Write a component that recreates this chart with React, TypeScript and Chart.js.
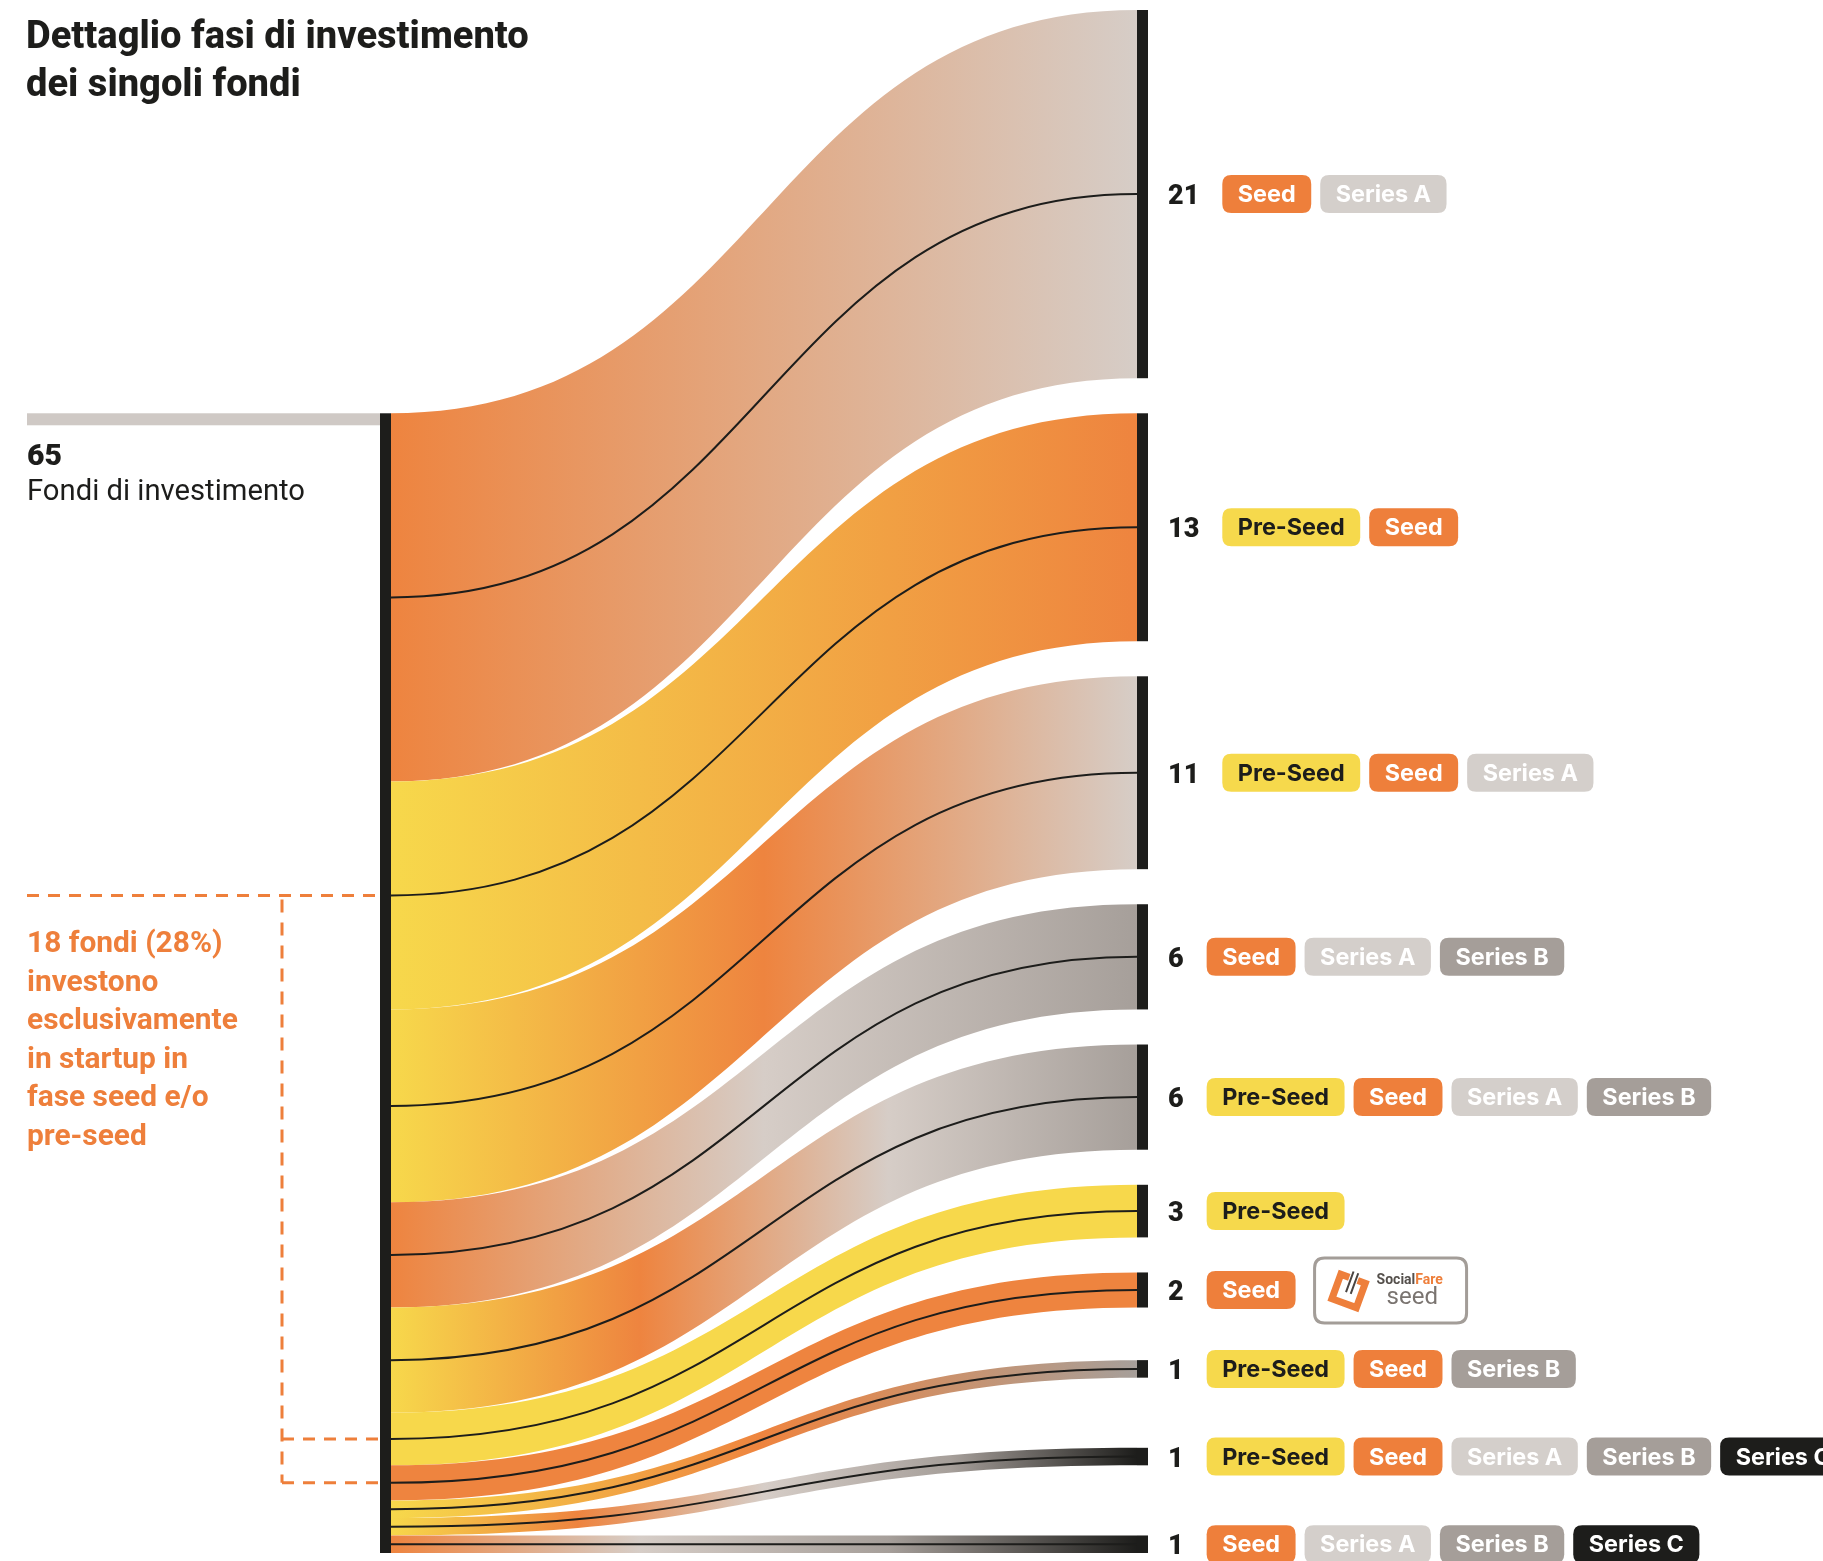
import React, { useEffect, useRef } from "react";
import { Chart, registerables } from "chart.js";

Chart.register(...registerables);

// ---------- DATA ----------
const titleLines = ["Dettaglio fasi di investimento", "dei singoli fondi"];
const totalFunds = 65;
const totalLabel = "Fondi di investimento";
const noteLines = [
  "18 fondi (28%)",
  "investono",
  "esclusivamente",
  "in startup in",
  "fase seed e/o",
  "pre-seed",
];
const groupCounts = [21, 13, 11, 6, 6, 3, 2, 1, 1, 1];
const groupStages: string[][] = [
  ["Seed", "Series A"],
  ["Pre-Seed", "Seed"],
  ["Pre-Seed", "Seed", "Series A"],
  ["Seed", "Series A", "Series B"],
  ["Pre-Seed", "Seed", "Series A", "Series B"],
  ["Pre-Seed"],
  ["Seed"],
  ["Pre-Seed", "Seed", "Series B"],
  ["Pre-Seed", "Seed", "Series A", "Series B", "Series C"],
  ["Seed", "Series A", "Series B", "Series C"],
];
// spacing (in fund units) before each group on the right side
const rightGaps = [0, 2, 2, 2, 2, 2, 2, 3, 4, 4];
const logoGroupIndex = 6;
const earlyStages = ["Pre-Seed", "Seed"];

// ---------- STYLE ----------
const stageStyle: Record<string, { band: string; pill: string; text: string }> = {
  "Pre-Seed": { band: "#f7d84b", pill: "#f6d94c", text: "#1d1d1b" },
  Seed: { band: "#ee843f", pill: "#ee7f3b", text: "#ffffff" },
  "Series A": { band: "#d6cdc7", pill: "#d4cfcb", text: "#ffffff" },
  "Series B": { band: "#a69f9a", pill: "#a59e99", text: "#ffffff" },
  "Series C": { band: "#1d1d1b", pill: "#1d1d1b", text: "#ffffff" },
};
const ORANGE = "#ee7f3b";
const DARK = "#1d1d1b";
const W = 1823;
const H = 1561;

function fitSize(ctx: CanvasRenderingContext2D, text: string, target: number, weight: string, family: string) {
  ctx.font = `${weight} 100px ${family}`;
  const w = ctx.measureText(text).width;
  return (100 * target) / w;
}

function roundRect(ctx: CanvasRenderingContext2D, x: number, y: number, w: number, h: number, r: number) {
  ctx.beginPath();
  ctx.moveTo(x + r, y);
  ctx.lineTo(x + w - r, y);
  ctx.quadraticCurveTo(x + w, y, x + w, y + r);
  ctx.lineTo(x + w, y + h - r);
  ctx.quadraticCurveTo(x + w, y + h, x + w - r, y + h);
  ctx.lineTo(x + r, y + h);
  ctx.quadraticCurveTo(x, y + h, x, y + h - r);
  ctx.lineTo(x, y + r);
  ctx.quadraticCurveTo(x, y, x + r, y);
  ctx.closePath();
}

const totalUnits = groupCounts.reduce((a, b) => a + b, 0) + rightGaps.reduce((a, b) => a + b, 0);
const leftStart = totalUnits - totalFunds;

function layoutGroups() {
  let l = leftStart;
  let r = 0;
  return groupCounts.map((n, i) => {
    r += rightGaps[i];
    const g = { lt: l, lb: l + n, rt: r, rb: r + n };
    l += n;
    r += n;
    return g;
  });
}

const sankeyPlugin = {
  id: "sankeyFlows",
  beforeDatasetsDraw(chart: any) {
    const { ctx, scales } = chart;
    const x = scales.x;
    const y = scales.y;
    const xL = x.getPixelForValue(0);
    const xR = x.getPixelForValue(1);
    const xm = x.getPixelForValue(0.5);
    const groups = layoutGroups();
    ctx.save();
    groups.forEach((g, i) => {
      const lt = y.getPixelForValue(g.lt);
      const lb = y.getPixelForValue(g.lb);
      const rt = y.getPixelForValue(g.rt);
      const rb = y.getPixelForValue(g.rb);
      const stages = groupStages[i];
      let fill: any;
      if (stages.length === 1) fill = stageStyle[stages[0]].band;
      else {
        const grad = ctx.createLinearGradient(xL, 0, xR, 0);
        stages.forEach((s, k) => grad.addColorStop(k / (stages.length - 1), stageStyle[s].band));
        fill = grad;
      }
      ctx.beginPath();
      ctx.moveTo(xL, lt);
      ctx.bezierCurveTo(xm, lt, xm, rt, xR, rt);
      ctx.lineTo(xR, rb);
      ctx.bezierCurveTo(xm, rb, xm, lb, xL, lb);
      ctx.closePath();
      ctx.fillStyle = fill;
      ctx.fill();
    });
    // centre lines
    ctx.strokeStyle = DARK;
    ctx.lineWidth = 2;
    groups.forEach((g) => {
      const lc = y.getPixelForValue((g.lt + g.lb) / 2);
      const rc = y.getPixelForValue((g.rt + g.rb) / 2);
      ctx.beginPath();
      ctx.moveTo(xL, lc);
      ctx.bezierCurveTo(xm, lc, xm, rc, xR, rc);
      ctx.stroke();
    });
    // right bars
    ctx.fillStyle = DARK;
    groups.forEach((g) => {
      const rt = y.getPixelForValue(g.rt);
      const rb = y.getPixelForValue(g.rb);
      ctx.fillRect(xR, rt, 11, rb - rt);
    });
    // left bar
    const top = y.getPixelForValue(leftStart);
    const bottom = y.getPixelForValue(leftStart + totalFunds);
    ctx.fillRect(xL - 11, top, 11, bottom - top);
    // grey baseline
    ctx.fillStyle = "#cfc9c5";
    ctx.fillRect(27, top, xL - 11 - 27, 12);
    ctx.restore();
  },
  afterDraw(chart: any) {
    const { ctx, scales } = chart;
    const x = scales.x;
    const y = scales.y;
    const xL = x.getPixelForValue(0);
    const xR = x.getPixelForValue(1);
    const groups = layoutGroups();
    ctx.save();
    ctx.textBaseline = "alphabetic";
    ctx.textAlign = "left";

    // title
    const tSize = fitSize(ctx, titleLines[0], 503, "800", "Roboto");
    ctx.font = `800 ${tSize}px Roboto`;
    ctx.fillStyle = DARK;
    titleLines.forEach((t, k) => ctx.fillText(t, 26, 48 + k * 48));

    // total label
    const top = y.getPixelForValue(leftStart);
    const nSz = fitSize(ctx, String(totalFunds), 35, "900", "Roboto");
    ctx.font = `900 ${nSz}px Roboto`;
    ctx.fillText(String(totalFunds), 27, top + 52);
    const fSize = fitSize(ctx, totalLabel, 278, "normal", "Roboto");
    ctx.font = `normal ${fSize}px Roboto`;
    ctx.fillText(totalLabel, 27, top + 87);

    // bracket for exclusively early-stage groups
    const early = groups
      .map((g, i) => ({ c: y.getPixelForValue((g.lt + g.lb) / 2), i }))
      .filter((o) => groupStages[o.i].every((s) => earlyStages.includes(s)));
    const barLeft = xL - 11;
    const vx = 282;
    ctx.strokeStyle = ORANGE;
    ctx.lineWidth = 3;
    ctx.setLineDash([12, 9]);
    ctx.beginPath();
    ctx.moveTo(27, early[0].c);
    ctx.lineTo(barLeft, early[0].c);
    ctx.stroke();
    early.slice(1).forEach((o) => {
      ctx.beginPath();
      ctx.moveTo(vx, o.c);
      ctx.lineTo(barLeft, o.c);
      ctx.stroke();
    });
    ctx.setLineDash([13, 10]);
    ctx.beginPath();
    ctx.moveTo(vx, early[0].c + 4);
    ctx.lineTo(vx, early[early.length - 1].c);
    ctx.stroke();
    ctx.setLineDash([]);
    const noteSize = fitSize(ctx, noteLines[2], 211, "bold", "Roboto");
    ctx.font = `bold ${noteSize}px Roboto`;
    ctx.fillStyle = ORANGE;
    noteLines.forEach((t, k) => ctx.fillText(t, 27, early[0].c + 57 + k * 38.5));

    // right labels
    const pSize = fitSize(ctx, "Pre-Seed", 107, "bold", "Inter");
    groups.forEach((g, i) => {
      const cy = y.getPixelForValue((g.rt + g.rb) / 2);
      ctx.font = "900 27px Roboto";
      ctx.fillStyle = DARK;
      ctx.textBaseline = "alphabetic";
      const label = String(groupCounts[i]);
      ctx.fillText(label, xR + 31, cy + 10);
      let px = xR + 31 + ctx.measureText(label).width + 23;
      ctx.font = `bold ${pSize}px Inter`;
      ctx.textBaseline = "middle";
      groupStages[i].forEach((s) => {
        const tw = ctx.measureText(s).width;
        const w = tw + 31;
        roundRect(ctx, px, cy - 19, w, 38, 9);
        ctx.fillStyle = stageStyle[s].pill;
        ctx.fill();
        ctx.fillStyle = stageStyle[s].text;
        ctx.fillText(s, px + 15.5, cy + 1);
        px += w + 9;
      });
      if (i === logoGroupIndex) {
        const lx = px + 10;
        roundRect(ctx, lx, cy - 32, 152, 65, 10);
        ctx.strokeStyle = "#a39d98";
        ctx.lineWidth = 3;
        ctx.stroke();
        // icon
        ctx.save();
        ctx.translate(lx + 34, cy + 1);
        ctx.rotate(0.35);
        ctx.strokeStyle = ORANGE;
        ctx.lineWidth = 7;
        ctx.beginPath();
        ctx.moveTo(-4, -13);
        ctx.lineTo(-13, -13);
        ctx.lineTo(-13, 13);
        ctx.lineTo(13, 13);
        ctx.lineTo(13, -13);
        ctx.lineTo(5, -13);
        ctx.stroke();
        ctx.strokeStyle = "#4a4542";
        ctx.lineWidth = 2;
        ctx.beginPath();
        ctx.moveTo(-2, -20);
        ctx.lineTo(-2, 2);
        ctx.moveTo(3, -20);
        ctx.lineTo(3, 2);
        ctx.stroke();
        ctx.restore();
        ctx.textBaseline = "alphabetic";
        ctx.font = "bold 14px Roboto";
        ctx.fillStyle = "#55504c";
        ctx.fillText("Social", lx + 62, cy - 6);
        const sw = ctx.measureText("Social").width;
        ctx.fillStyle = ORANGE;
        ctx.fillText("Fare", lx + 62 + sw, cy - 6);
        ctx.font = "normal 24px Roboto";
        ctx.fillStyle = "#7a7470";
        ctx.fillText("seed", lx + 72, cy + 14);
      }
    });
    ctx.restore();
  },
};

export default function App() {
  const ref = useRef<HTMLCanvasElement | null>(null);
  useEffect(() => {
    document.body.style.margin = "0";
    document.body.style.overflow = "hidden";
    const canvas = ref.current;
    if (!canvas) return;
    const chart = new Chart(canvas, {
      type: "scatter",
      data: { datasets: [] },
      options: {
        animation: false,
        responsive: false,
        devicePixelRatio: 1,
        layout: { padding: { left: 391, right: W - 1137, top: 10, bottom: H - 1553 } },
        scales: {
          x: { type: "linear", min: 0, max: 1, display: false },
          y: { type: "linear", min: 0, max: totalUnits, reverse: true, display: false },
        },
        plugins: { legend: { display: false }, tooltip: { enabled: false } },
      },
      plugins: [sankeyPlugin as any],
    });
    return () => chart.destroy();
  }, []);
  return (
    <div style={{ width: W, height: H, background: "#fff" }}>
      <canvas ref={ref} width={W} height={H} style={{ display: "block" }} />
    </div>
  );
}
